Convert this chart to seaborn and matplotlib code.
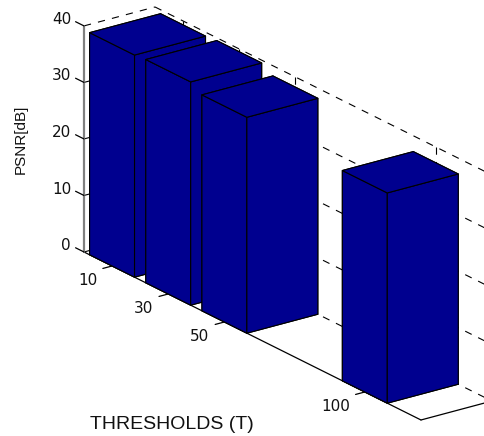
import matplotlib
matplotlib.use('Agg')
import matplotlib.pyplot as plt
import seaborn as sns
from mpl_toolkits.mplot3d import proj3d

thresholds = [10, 30, 50, 100]
psnr = [39.3, 39.5, 38.2, 37.2]
z_ticks = [0, 10, 20, 30, 40]
bar_width = 16


def label(ax, x, y, z, s):
    # flat text at the projected position of a data point
    px, py, _ = proj3d.proj_transform(x, y, z, ax.get_proj())
    ax.text2D(px, py, s, transform=ax.transData, ha='right', va='center',
              fontsize=11, family='DejaVu Sans', color='#111111')


def main():
    sns.set_theme(style='white', font='Liberation Sans')
    sns.set_palette(['#00008f'])
    bar_color = sns.color_palette()[0]

    fig = plt.figure(figsize=(4.85, 4.36), dpi=100)
    ax = fig.add_axes([-0.050, -0.2057, 1.2536, 1.3945], projection='3d', proj_type='ortho')
    ax.view_init(elev=21.4, azim=-36.2)
    ax.set_box_aspect((571, 88, 243))
    ax.set_xlim(0, 120, view_margin=0)
    ax.set_ylim(0, 1, view_margin=0)
    ax.set_zlim(0, 40, view_margin=0)
    ax.set_xticks([])
    ax.set_yticks([])
    ax.set_zticks([])
    ax.set_axis_off()
    ax.patch.set_alpha(0)
    ax.computed_zorder = False

    dash = dict(color='black', lw=0.8, linestyle=(0, (6.5, 6.5)), zorder=1)
    solid = dict(color='black', lw=0.9, zorder=2)

    # back wall and left wall grid
    for z in z_ticks:
        ax.plot([0, 120], [1, 1], [z, z], **dash)
        ax.plot([0, 0], [0, 1], [z, z], **dash)
    for t in thresholds:
        ax.plot([t, t], [1, 1], [40, 0], **dash)

    # floor edges
    ax.plot([0, 120], [0, 0], [0, 0], **solid)
    ax.plot([120, 120], [0, 1], [0, 0], **solid)

    # z axis
    ax.plot([0, 0], [0, 0], [0, 40], color='#808080', lw=1.6, zorder=2)

    # ticks and labels
    for z in z_ticks:
        ax.plot([-3, 0], [0, 0], [z, z], **solid)
        label(ax, -4.6, 0, z, str(z))
    for t in thresholds:
        ax.plot([t, t], [-0.13, 0], [0, 0], **solid)
        label(ax, t, -0.21, -1.95, str(t))

    # bars, back to front
    for i, (t, v) in enumerate(zip(thresholds, psnr)):
        ax.bar3d(t - bar_width / 2, 0, 0, bar_width, 1, v, color=bar_color, shade=False,
                 edgecolor='black', linewidth=0.8, zorder=3 + i)

    fig.text(171.5 / 485, 1 - 424.7 / 436, 'THRESHOLDS (T)', ha='center', va='center',
             fontsize=14, color='#111111')
    fig.text(21 / 485, 1 - 139 / 436, 'PSNR[dB]', rotation=90, ha='center', va='center',
             fontsize=11, color='#111111')

    fig.savefig('out.png', dpi=100)


if __name__ == "__main__":
    main()
